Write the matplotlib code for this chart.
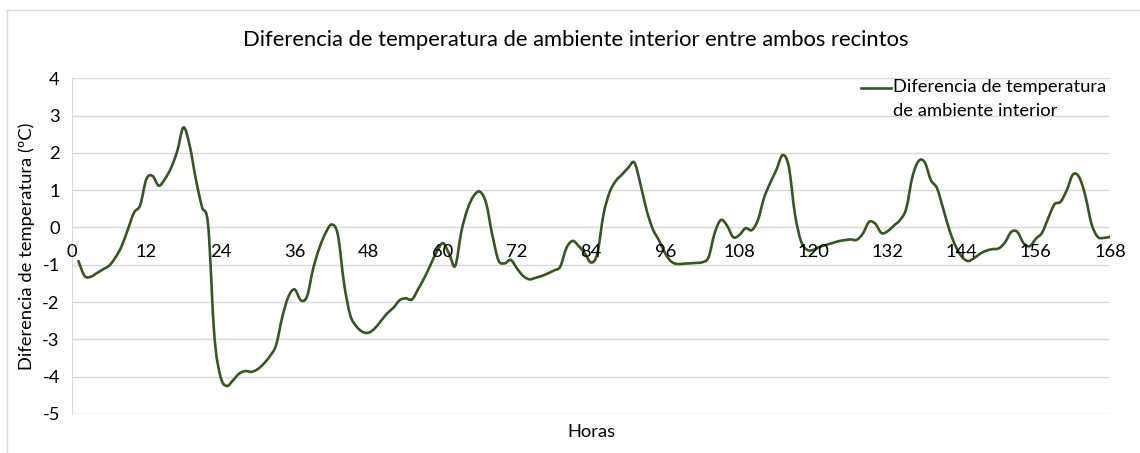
import numpy as np
import matplotlib.pyplot as plt
from matplotlib.path import Path
from matplotlib.patches import PathPatch
from matplotlib.lines import Line2D
from matplotlib.legend_handler import HandlerLine2D

plt.rcParams['font.family'] = ['Lato', 'DejaVu Sans']
plt.rcParams['axes.unicode_minus'] = False

# Datos horarios (h 1..168)
horas = np.arange(1, 169)
diferencia = [
    -0.90, -1.30, -1.32, -1.22, -1.12, -1.02, -0.80, -0.50, -0.05, 0.40,
    0.60, 1.30, 1.38, 1.12, 1.30, 1.60, 2.05, 2.68, 2.20, 1.30,
    0.55, 0.05, -2.90, -4.00, -4.25, -4.10, -3.92, -3.85, -3.87, -3.80,
    -3.65, -3.45, -3.15, -2.40, -1.85, -1.66, -1.95, -1.85, -1.10, -0.55,
    -0.15, 0.08, -0.20, -1.50, -2.35, -2.65, -2.80, -2.82, -2.70, -2.50,
    -2.30, -2.15, -1.95, -1.90, -1.93, -1.65, -1.35, -1.00, -0.65, -0.42,
    -0.70, -1.03, -0.10, 0.50, 0.85, 0.96, 0.65, -0.20, -0.88, -0.96,
    -0.87, -1.10, -1.30, -1.39, -1.35, -1.30, -1.23, -1.15, -1.05, -0.55,
    -0.36, -0.50, -0.70, -0.94, -0.70, 0.35, 0.95, 1.25, 1.42, 1.60,
    1.74, 1.15, 0.45, -0.05, -0.35, -0.70, -0.92, -0.98, -0.97, -0.96,
    -0.95, -0.93, -0.80, -0.15, 0.20, 0.05, -0.26, -0.20, -0.02, -0.07,
    0.20, 0.80, 1.20, 1.55, 1.94, 1.63, 0.35, -0.38, -0.60, -0.60,
    -0.52, -0.47, -0.42, -0.37, -0.34, -0.32, -0.33, -0.16, 0.15, 0.10,
    -0.15, -0.10, 0.05, 0.20, 0.50, 1.35, 1.78, 1.75, 1.27, 1.05,
    0.50, -0.07, -0.50, -0.78, -0.90, -0.82, -0.70, -0.62, -0.58, -0.56,
    -0.40, -0.12, -0.12, -0.42, -0.50, -0.30, -0.14, 0.25, 0.62, 0.69,
    1.00, 1.42, 1.35, 0.85, 0.10, -0.25, -0.28, -0.25,
]
xticks = list(range(0, 169, 12))
yticks = list(range(-5, 5))

titulo = 'Diferencia de temperatura de ambiente interior entre ambos recintos'
etiqueta = 'Diferencia de temperatura\nde ambiente interior'
verde = '#375623'
fs = 13.2


def curva_suave(x, y, t=1/6):
    # Catmull-Rom -> Bezier cubico (linea suavizada)
    x = np.asarray(x, float)
    y = np.asarray(y, float)
    verts = [(x[0], y[0])]
    codes = [Path.MOVETO]
    n = len(x)
    for i in range(n - 1):
        i0 = max(i - 1, 0)
        i3 = min(i + 2, n - 1)
        c1 = (x[i] + (x[i + 1] - x[i0]) * t, y[i] + (y[i + 1] - y[i0]) * t)
        c2 = (x[i + 1] - (x[i3] - x[i]) * t, y[i + 1] - (y[i3] - y[i]) * t)
        verts += [c1, c2, (x[i + 1], y[i + 1])]
        codes += [Path.CURVE4] * 3
    return Path(verts, codes)


class LineaArriba(HandlerLine2D):
    # sube la muestra de linea a la altura de la primera linea de texto
    def create_artists(self, legend, orig_handle, xdescent, ydescent,
                       width, height, fontsize, trans):
        arts = super().create_artists(legend, orig_handle, xdescent, ydescent,
                                      width, height, fontsize, trans)
        for a in arts:
            a.set_ydata(np.asarray(a.get_ydata()) + 0.6 * fontsize)
        return arts


fig = plt.figure(figsize=(11.4, 4.53), dpi=100)
ax = fig.add_axes([0.0634, 0.0861, 0.9103, 0.7411])

ax.add_patch(PathPatch(curva_suave(horas, diferencia), fill=False,
                       edgecolor=verde, lw=1.9, capstyle='round'))
linea, = ax.plot([], [], color=verde, lw=1.9, label=etiqueta)

ax.set_xlim(0, 168)
ax.set_ylim(-5, 4)
ax.set_yticks(yticks)
ax.set_xticks(xticks)
ax.grid(axis='y', color='#d9d9d9', lw=1)
ax.set_axisbelow(True)
for s in ['top', 'right', 'bottom']:
    ax.spines[s].set_visible(False)
ax.spines['left'].set_color('#d9d9d9')
ax.tick_params(axis='both', length=0, labelsize=fs)
ax.tick_params(axis='y', pad=9)

# etiquetas del eje x sobre la linea de cero
ax.set_xticklabels([])
for h in xticks:
    ax.text(h, -0.65, str(h), ha='center', va='center', fontsize=fs)

ax.set_xlabel('Horas', fontsize=fs, labelpad=4)
ax.set_ylabel('Diferencia de temperatura (ºC)', fontsize=fs, labelpad=5)
fig.text(0.505, 0.912, titulo, ha='center', va='center', fontsize=15.8)

leg = ax.legend(loc='upper left', bbox_to_anchor=(861 / 1140, 1 - 79 / 453),
                bbox_transform=fig.transFigure, frameon=False, fontsize=fs,
                handlelength=1.65, handletextpad=0.1, borderaxespad=0,
                borderpad=0, handler_map={linea: LineaArriba()})
for t in leg.get_texts():
    t.set_linespacing(1.6)

# borde del grafico
fig.add_artist(Line2D([7 / 1140, 1], [1 - 10 / 453, 1 - 10 / 453],
                      transform=fig.transFigure, color='#d9d9d9', lw=1))
fig.add_artist(Line2D([7 / 1140, 7 / 1140], [0, 1 - 10 / 453],
                      transform=fig.transFigure, color='#d9d9d9', lw=1))

fig.savefig('out.png', dpi=100)
